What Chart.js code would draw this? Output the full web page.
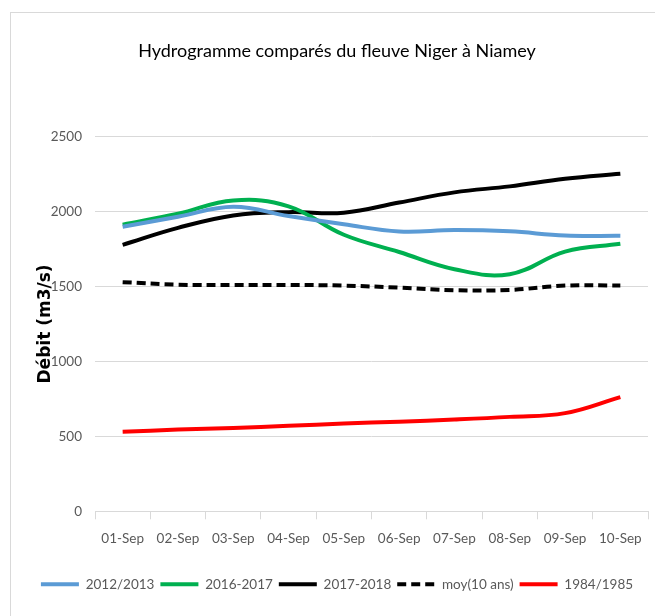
<!DOCTYPE html>
<html>
<head>
<meta charset="utf-8">
<script src="https://cdn.jsdelivr.net/npm/chart.js@4/dist/chart.umd.min.js"></script>
<style>
  html, body { margin: 0; padding: 0; background: #fff; }
  #wrap { position: relative; width: 655px; height: 616px; overflow: hidden; }
  #frame { position: absolute; left: 10px; top: 12px; width: 700px; height: 700px;
           border-left: 1px solid #d9d9d9; border-top: 1px solid #d9d9d9; }
  canvas { position: absolute; left: 0; top: 0; }
</style>
</head>
<body>
<div id="wrap">
  <div id="frame"></div>
  <canvas id="c" width="655" height="616"></canvas>
</div>
<script>
const categories = ["01-Sep","02-Sep","03-Sep","04-Sep","05-Sep","06-Sep","07-Sep","08-Sep","09-Sep","10-Sep"];
const s2012 = [1898, 1965, 2032, 1970, 1915, 1867, 1877, 1868, 1840, 1838];
const s2016 = [1912, 1985, 2074, 2035, 1845, 1730, 1615, 1582, 1733, 1785];
const s2017 = [1778, 1891, 1974, 1996, 1992, 2060, 2128, 2168, 2219, 2252];
const sMoy  = [1529, 1512, 1510, 1510, 1506, 1492, 1475, 1477, 1506, 1506];
const s1984 = [530, 545, 555, 570, 586, 598, 612, 630, 655, 762];
const yTicks = [0, 500, 1000, 1500, 2000, 2500];

const narrow = "Lato, 'Open Sans', sans-serif";

new Chart(document.getElementById('c'), {
  type: 'line',
  data: {
    labels: categories,
    datasets: [
      { label: '2012/2013', data: s2012, borderColor: '#5B9BD5', backgroundColor: '#5B9BD5', borderWidth: 4 },
      { label: '2016-2017', data: s2016, borderColor: '#00B050', backgroundColor: '#00B050', borderWidth: 4 },
      { label: '2017-2018', data: s2017, borderColor: '#000000', backgroundColor: '#000000', borderWidth: 4 },
      { label: 'moy(10 ans)', data: sMoy, borderColor: '#000000', backgroundColor: '#000000', borderWidth: 4, borderDash: [9, 5] },
      { label: '1984/1985', data: s1984, borderColor: '#FF0000', backgroundColor: '#FF0000', borderWidth: 4 }
    ]
  },
  options: {
    responsive: false,
    animation: false,
    layout: { padding: { left: 26, right: 7, top: 40, bottom: 15 } },
    elements: {
      line: { tension: 0.4 },
      point: { radius: 0, hoverRadius: 0 }
    },
    plugins: {
      title: {
        display: true,
        text: 'Hydrogramme comparés du fleuve Niger à Niamey',
        color: '#000',
        font: { family: narrow, size: 18, weight: 'normal' },
        padding: { top: 0, bottom: 75 }
      },
      legend: {
        position: 'bottom',
        title: { display: true, text: ' ', font: { size: 10 }, padding: { top: 0, bottom: 2 } },
        labels: {
          usePointStyle: true,
          pointStyle: 'line',
          pointStyleWidth: 38,
          boxWidth: 38,
          boxHeight: 4,
          color: '#595959',
          padding: 6,
          font: { family: narrow, size: 13.5 },
          generateLabels: (chart) => chart.data.datasets.map((ds, i) => ({
            text: ds.label,
            strokeStyle: ds.borderColor,
            fillStyle: ds.borderColor,
            lineWidth: 4,
            lineDash: ds.borderDash || [],
            lineCap: 'butt',
            pointStyle: 'line',
            fontColor: '#595959',
            hidden: false,
            datasetIndex: i
          }))
        }
      },
      tooltip: { enabled: false }
    },
    scales: {
      x: {
        offset: true,
        grid: { display: true, drawOnChartArea: false, drawTicks: true, tickLength: 8, color: '#d9d9d9', offset: true },
        border: { display: true, color: '#d9d9d9' },
        ticks: { color: '#595959', font: { family: narrow, size: 13.5 }, padding: 11, maxRotation: 0 }
      },
      y: {
        min: 0, max: 2500,
        afterBuildTicks: (axis) => { axis.ticks = yTicks.map(v => ({ value: v })); },
        afterFit: (axis) => { axis.width = 69; },
        grid: { color: '#d9d9d9', drawTicks: false },
        border: { display: false },
        ticks: { color: '#595959', font: { family: narrow, size: 13.5 }, padding: 13, callback: (v) => String(v) },
        title: {
          display: true,
          text: 'Débit (m3/s)',
          color: '#000',
          font: { family: "'DejaVu Sans', sans-serif", size: 17, weight: 'bold' },
          padding: { top: 9, bottom: 1 }
        }
      }
    }
  }
});
</script>
</body>
</html>
